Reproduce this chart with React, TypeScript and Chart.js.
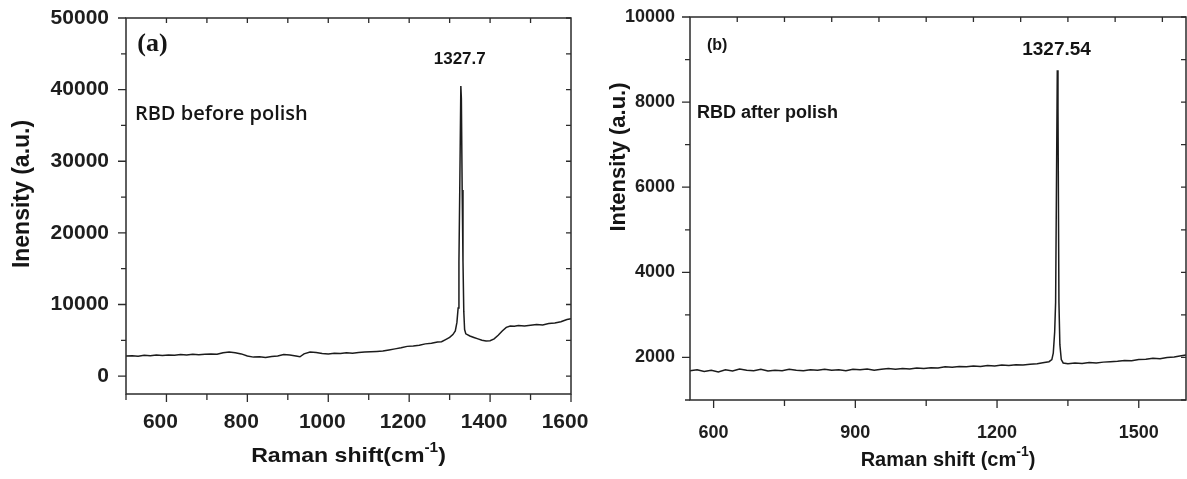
import React, { useEffect, useRef } from "react";
import { Chart, registerables } from "chart.js";

Chart.register(...registerables);

// ---------- Data: panel (a) RBD before polish ----------
const ramanA = [
  500, 515, 530, 545, 560, 575, 590, 605, 620, 635, 650, 665, 680, 695, 710, 725, 740, 755, 770, 785,
  800, 815, 830, 845, 860, 875, 890, 905, 920, 930, 940, 955, 970, 985, 1000, 1015, 1030, 1045, 1060, 1075,
  1090, 1105, 1120, 1135, 1150, 1165, 1180, 1195, 1210, 1225, 1240, 1255, 1270, 1280, 1290, 1300, 1308, 1314,
  1318, 1321, 1323, 1325, 1327.7, 1329, 1331, 1333, 1335, 1337, 1340, 1350, 1360, 1370, 1380, 1390, 1400,
  1410, 1420, 1430, 1440, 1450, 1460, 1470, 1485, 1500, 1515, 1530, 1545, 1560, 1575, 1590, 1600,
];
const intensityA = [
  2800, 2850, 2780, 2900, 2830, 2950, 2880, 2960, 2900, 3000, 2950, 3050, 2980, 3050, 3100, 3050, 3250, 3350, 3250, 3100,
  2800, 2650, 2700, 2600, 2750, 2800, 3000, 2950, 2800, 2700, 3100, 3350, 3300, 3150, 3100, 3200, 3150, 3250, 3200, 3300,
  3350, 3400, 3450, 3500, 3650, 3800, 3950, 4150, 4200, 4300, 4500, 4600, 4750, 4800, 5100, 5400, 5800, 6300,
  7500, 9500, 16000, 26000, 40500, 38800, 26000, 16000, 9000, 6500, 5900, 5600, 5400, 5200, 5000, 4900, 4950,
  5200, 5700, 6300, 6800, 7000, 6950, 7050, 7000, 7100, 7200, 7150, 7350, 7400, 7600, 7900, 8000,
];

// ---------- Data: panel (b) RBD after polish ----------
const ramanB = [
  550, 565, 580, 595, 610, 625, 640, 655, 670, 685, 700, 715, 730, 745, 760, 775, 790, 805, 820, 835,
  850, 865, 880, 895, 910, 925, 940, 955, 970, 985, 1000, 1015, 1030, 1045, 1060, 1075, 1090, 1105, 1120, 1135,
  1150, 1165, 1180, 1195, 1210, 1225, 1240, 1255, 1270, 1285, 1300, 1310, 1316, 1319, 1322, 1324, 1325.5,
  1327.54, 1329, 1331, 1333, 1336, 1340, 1350, 1365, 1380, 1395, 1410, 1425, 1440, 1455, 1470, 1485, 1500,
  1515, 1530, 1545, 1560, 1575, 1590, 1600,
];
const intensityB = [
  1690, 1710, 1670, 1700, 1660, 1710, 1680, 1730, 1700, 1690, 1720, 1680, 1700, 1690, 1720, 1700, 1690, 1710, 1700, 1720,
  1700, 1710, 1690, 1720, 1710, 1730, 1700, 1720, 1740, 1720, 1740, 1730, 1750, 1740, 1760, 1750, 1780, 1770, 1790, 1780,
  1800, 1790, 1810, 1800, 1820, 1810, 1830, 1820, 1840, 1850, 1880, 1900, 1950, 2100, 2600, 3300, 5600,
  8750, 7850, 3300, 2300, 1950, 1870, 1850, 1870, 1860, 1880, 1870, 1890, 1900, 1910, 1930, 1920, 1950,
  1960, 1980, 1970, 2000, 2010, 2040, 2060,
];

// ---------- Axis ticks ----------
const xLabelsA = [600, 800, 1000, 1200, 1400, 1600];
const xTicksA = [500, 600, 700, 800, 900, 1000, 1100, 1200, 1300, 1400, 1500, 1600];
const xTopA = [600, 700, 800, 900, 1000, 1100, 1200, 1300, 1400, 1500];
const yLabelsA = [0, 10000, 20000, 30000, 40000, 50000];
const yTicksA = [0, 5000, 10000, 15000, 20000, 25000, 30000, 35000, 40000, 45000, 50000];

const xLabelsB = [600, 900, 1200, 1500];
const xTicksB = [600, 750, 900, 1050, 1200, 1350, 1500];
const xTopB = [650, 750, 850, 950, 1050, 1150, 1250, 1350, 1450, 1550];
const yLabelsB = [2000, 4000, 6000, 8000, 10000];
const yTicksB = [1000, 2000, 3000, 4000, 5000, 6000, 7000, 8000, 9000, 10000];

const SANS = '"Liberation Sans", Arial, Helvetica, sans-serif';
const SERIF = '"Liberation Serif", "DejaVu Serif", serif';
const CAL = '"Open Sans", "Liberation Sans", sans-serif';

type Note = { text: string; x: number; y: number; font: string; align: CanvasTextAlign };

const notesA: Note[] = [
  { text: "(a)", x: 528, y: 46400, font: `bold 26px ${SERIF}`, align: "left" },
  { text: "RBD before polish", x: 522, y: 36500, font: `600 20px ${CAL}`, align: "left" },
  { text: "1327.7", x: 1325, y: 44300, font: `bold 17px ${SANS}`, align: "center" },
];
const notesB: Note[] = [
  { text: "(b)", x: 586, y: 9330, font: `bold 16px ${SANS}`, align: "left" },
  { text: "RBD after polish", x: 565, y: 7740, font: `bold 18px ${SANS}`, align: "left" },
  { text: "1327.54", x: 1326, y: 9225, font: `bold 19px ${SANS}`, align: "center" },
];

const framePlugin = {
  id: "frame",
  afterDraw(chart: any) {
    const o = chart.options.plugins.frame;
    const { ctx, chartArea: a } = chart;
    const sx = chart.scales.x;
    const sy = chart.scales.y;
    ctx.save();
    ctx.strokeStyle = "#2b2b2b";
    ctx.lineWidth = 1.5;
    ctx.strokeRect(a.left, a.top, a.right - a.left, a.bottom - a.top);
    ctx.lineWidth = 1.3;
    ctx.beginPath();
    o.xTicks.forEach((v: number) => {
      const p = sx.getPixelForValue(v);
      const L = o.xLabels.includes(v) ? 8 : 6;
      ctx.moveTo(p, a.bottom);
      ctx.lineTo(p, a.bottom + L);
    });
    o.xTop.forEach((v: number) => {
      const p = sx.getPixelForValue(v);
      ctx.moveTo(p, a.top);
      ctx.lineTo(p, a.top + 5);
    });
    o.yTicks.forEach((v: number) => {
      const p = sy.getPixelForValue(v);
      const L = o.yLabels.includes(v) ? 8 : 5;
      ctx.moveTo(a.left - L, p);
      ctx.lineTo(a.left, p);
      ctx.moveTo(a.right - 5, p);
      ctx.lineTo(a.right, p);
    });
    ctx.stroke();

    ctx.fillStyle = "#151515";
    // x title with superscript (horizontally stretched like the source figure)
    const main = o.xTitle[0];
    const sup = "-1";
    const end = ")";
    const supSize = Math.round(o.titleSize * 0.68);
    ctx.font = `bold ${o.titleSize}px ${SANS}`;
    const w1 = ctx.measureText(main).width;
    const w3 = ctx.measureText(end).width;
    ctx.font = `bold ${supSize}px ${SANS}`;
    const w2 = ctx.measureText(sup).width;
    const total = (w1 + w2 + w3) * o.xStretch;
    const cx = (a.left + a.right) / 2 + o.xTitleDx;
    const ty = a.bottom + o.xTitleDy;
    ctx.save();
    ctx.translate(cx - total / 2, ty);
    ctx.scale(o.xStretch, 1);
    ctx.textBaseline = "middle";
    ctx.textAlign = "left";
    ctx.font = `bold ${o.titleSize}px ${SANS}`;
    ctx.fillText(main, 0, 0);
    ctx.font = `bold ${supSize}px ${SANS}`;
    ctx.fillText(sup, w1, -o.titleSize * 0.38);
    ctx.font = `bold ${o.titleSize}px ${SANS}`;
    ctx.fillText(end, w1 + w2, 0);
    ctx.restore();

    // y title rotated
    ctx.save();
    ctx.translate(o.yTitleX, o.yTitleY);
    ctx.rotate(-Math.PI / 2);
    ctx.textAlign = "center";
    ctx.textBaseline = "middle";
    ctx.font = `bold ${o.yTitleSize}px ${SANS}`;
    ctx.fillText(o.yTitle, 0, 0);
    ctx.restore();

    // annotations
    o.notes.forEach((n: Note) => {
      ctx.font = n.font;
      ctx.textAlign = n.align;
      ctx.textBaseline = "middle";
      ctx.fillText(n.text, sx.getPixelForValue(n.x), sy.getPixelForValue(n.y));
    });
    ctx.restore();
  },
};

type PanelCfg = {
  xs: number[];
  ys: number[];
  xMin: number;
  xMax: number;
  yMin: number;
  yMax: number;
  xLabels: number[];
  xTicks: number[];
  xTop: number[];
  yLabels: number[];
  yTicks: number[];
  tickSize: number;
  xPad: number;
  xLabelOffset: number;
  yPad: number;
  leftW: number;
  bottomH: number;
  padRight: number;
  padTop: number;
  xTitle: string[];
  titleSize: number;
  xStretch: number;
  xTitleDx: number;
  xTitleDy: number;
  yTitle: string;
  yTitleSize: number;
  yTitleX: number;
  yTitleY: number;
  notes: Note[];
};

function makeConfig(p: PanelCfg): any {
  const tickFont = { family: SANS, size: p.tickSize, weight: "bold" as const };
  return {
    type: "line",
    data: {
      datasets: [
        {
          data: p.xs.map((x, i) => ({ x, y: p.ys[i] })),
          borderColor: "#1c1c1c",
          borderWidth: 1.5,
          pointRadius: 0,
          tension: 0,
          fill: false,
        },
      ],
    },
    options: {
      responsive: false,
      animation: false,
      events: [],
      layout: { padding: { left: 0, right: p.padRight, top: p.padTop, bottom: 0 } },
      plugins: {
        legend: { display: false },
        tooltip: { enabled: false },
        frame: {
          xLabels: p.xLabels,
          xTicks: p.xTicks,
          xTop: p.xTop,
          yLabels: p.yLabels,
          yTicks: p.yTicks,
          xTitle: p.xTitle,
          titleSize: p.titleSize,
          xStretch: p.xStretch,
          xTitleDx: p.xTitleDx,
          xTitleDy: p.xTitleDy,
          yTitle: p.yTitle,
          yTitleSize: p.yTitleSize,
          yTitleX: p.yTitleX,
          yTitleY: p.yTitleY,
          notes: p.notes,
        },
      },
      scales: {
        x: {
          type: "linear",
          min: p.xMin,
          max: p.xMax,
          grid: { display: false },
          border: { display: false },
          afterBuildTicks: (s: any) => {
            s.ticks = p.xLabels.map((v) => ({ value: v }));
          },
          afterFit: (s: any) => {
            s.height = p.bottomH;
            s.paddingLeft = 0;
            s.paddingRight = 0;
          },
          ticks: {
            font: tickFont,
            color: "#1e1e1e",
            padding: p.xPad,
            labelOffset: p.xLabelOffset,
            maxRotation: 0,
            autoSkip: false,
            callback: (v: any) => String(v),
          },
        },
        y: {
          type: "linear",
          min: p.yMin,
          max: p.yMax,
          grid: { display: false },
          border: { display: false },
          afterBuildTicks: (s: any) => {
            s.ticks = p.yLabels.map((v) => ({ value: v }));
          },
          afterFit: (s: any) => {
            s.width = p.leftW;
            s.paddingTop = 0;
            s.paddingBottom = 0;
          },
          ticks: {
            font: tickFont,
            color: "#1e1e1e",
            padding: p.yPad,
            autoSkip: false,
            callback: (v: any) => String(v),
          },
        },
      },
    },
    plugins: [framePlugin],
  };
}

function Panel({ width, height, cfg }: { width: number; height: number; cfg: PanelCfg }) {
  const ref = useRef<HTMLCanvasElement | null>(null);
  useEffect(() => {
    if (!ref.current) return;
    const chart = new Chart(ref.current, makeConfig(cfg));
    return () => chart.destroy();
  }, []);
  return <canvas ref={ref} width={width} height={height} style={{ width, height, display: "block" }} />;
}

const cfgA: PanelCfg = {
  xs: ramanA,
  ys: intensityA,
  xMin: 500,
  xMax: 1600,
  yMin: -2500,
  yMax: 50000,
  xLabels: xLabelsA,
  xTicks: xTicksA,
  xTop: xTopA,
  yLabels: yLabelsA,
  yTicks: yTicksA,
  tickSize: 21,
  xPad: 8,
  xLabelOffset: -6,
  yPad: 9,
  leftW: 126,
  bottomH: 85,
  padRight: 29,
  padTop: 18,
  xTitle: ["Raman shift(cm"],
  titleSize: 21,
  xStretch: 1.1,
  xTitleDx: 0,
  xTitleDy: 62,
  yTitle: "Inensity (a.u.)",
  yTitleSize: 23,
  yTitleX: 23,
  yTitleY: 194,
  notes: notesA,
};

const cfgB: PanelCfg = {
  xs: ramanB,
  ys: intensityB,
  xMin: 550,
  xMax: 1600,
  yMin: 1000,
  yMax: 10000,
  xLabels: xLabelsB,
  xTicks: xTicksB,
  xTop: xTopB,
  yLabels: yLabelsB,
  yTicks: yTicksB,
  tickSize: 18,
  xPad: 14,
  xLabelOffset: 0,
  yPad: 7,
  leftW: 90,
  bottomH: 79,
  padRight: 1,
  padTop: 17,
  xTitle: ["Raman shift (cm"],
  titleSize: 20,
  xStretch: 1.0,
  xTitleDx: 10,
  xTitleDy: 60,
  yTitle: "Intensity (a.u.)",
  yTitleSize: 22,
  yTitleX: 19,
  yTitleY: 157,
  notes: notesB,
};

export default function App() {
  return (
    <div
      style={{
        position: "fixed",
        left: 0,
        top: 0,
        width: 1187,
        height: 479,
        background: "#ffffff",
        overflow: "hidden",
      }}
    >
      <div style={{ position: "absolute", left: 0, top: 0 }}>
        <Panel width={600} height={479} cfg={cfgA} />
      </div>
      <div style={{ position: "absolute", left: 600, top: 0 }}>
        <Panel width={587} height={479} cfg={cfgB} />
      </div>
    </div>
  );
}
